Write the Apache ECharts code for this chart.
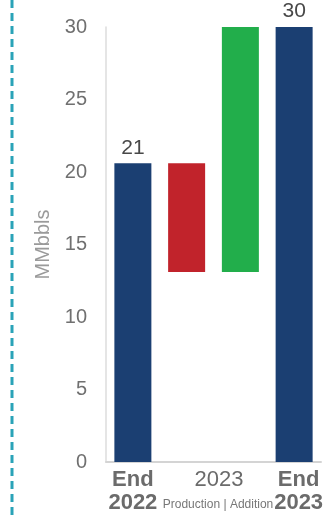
<!DOCTYPE html>
<html>
<head>
<meta charset="utf-8">
<script src="https://cdn.jsdelivr.net/npm/echarts@6/dist/echarts.min.js"></script>
<style>
  html, body { margin: 0; padding: 0; background: #ffffff; }
  #chart { width: 331px; height: 515px; }
</style>
</head>
<body>
<div id="chart"></div>
<script>
// Reserve bridge, MMbbls
const categories = ['End 2022', 'Production', 'Addition', 'End 2023'];
const openingReserves = 20.6;
const production = -7.5;
const additions = 16.9;
const closingReserves = 30.0;
const yTicks = [0, 5, 10, 15, 20, 25, 30];

const barColors = ['#1b3f72', '#c1232b', '#22ae4b', '#1b3f72'];

// Waterfall: transparent base + visible segment
const afterProduction = openingReserves + production;
const baseValues = [0, afterProduction, afterProduction, 0];
const segmentValues = [openingReserves, -production, additions, closingReserves];

const chart = echarts.init(document.getElementById('chart'), null, { renderer: 'canvas' });

const grid = { left: 106, right: 10, top: 27, bottom: 53 };
const font = 'Liberation Sans, Arial, sans-serif';

chart.setOption({
  animation: false,
  backgroundColor: '#ffffff',
  textStyle: { fontFamily: font },
  grid: grid,
  xAxis: {
    type: 'category',
    data: categories,
    axisLine: { show: true, lineStyle: { color: '#d4d4d4', width: 2 } },
    axisTick: { show: false },
    axisLabel: {
      interval: 0,
      margin: 6,
      formatter: function (v, i) {
        if (v.indexOf('End') === 0) {
          const parts = v.split(' ');
          const style = i === 0 ? 'b' : 'c';
          return '{' + style + '|' + parts[0] + '}\n{' + style + '|' + parts[1] + '}';
        }
        return '';
      },
      rich: {
        b: { fontSize: 22, fontWeight: 'bold', color: '#6b6b6b', lineHeight: 23, fontFamily: font },
        c: { fontSize: 22, fontWeight: 'bold', color: '#6b6b6b', lineHeight: 23, fontFamily: font, padding: [0, 0, 0, 9] }
      }
    }
  },
  yAxis: {
    type: 'value',
    min: yTicks[0],
    max: yTicks[yTicks.length - 1],
    interval: 5,
    name: 'MMbbls',
    nameLocation: 'middle',
    nameGap: 50,
    nameTextStyle: { fontSize: 20, color: '#9a9a9a', fontFamily: font },
    axisLine: { show: true, lineStyle: { color: '#dcdcdc', width: 1.5 } },
    axisTick: { show: false },
    splitLine: { show: false },
    axisLabel: { fontSize: 20, color: '#707070', margin: 19 }
  },
  series: [
    {
      type: 'bar',
      stack: 'bridge',
      data: baseValues,
      barWidth: 37,
      itemStyle: { color: 'transparent' },
      silent: true
    },
    {
      type: 'bar',
      stack: 'bridge',
      barWidth: 37,
      data: segmentValues.map(function (v, i) {
        return { value: v, itemStyle: { color: barColors[i] } };
      }),
      label: {
        show: true,
        position: 'top',
        distance: 5,
        fontSize: 21,
        color: '#484848',
        formatter: function (p) {
          return (p.dataIndex === 0 || p.dataIndex === 3) ? Math.round(p.value).toString() : '';
        }
      }
    }
  ],
  graphic: [
    {
      type: 'line',
      shape: { x1: 12, y1: 0, x2: 12, y2: 515 },
      style: { stroke: '#2aa3b8', lineWidth: 3, lineDash: [8, 5] }
    },
    {
      type: 'text',
      x: 219, y: 480,
      style: { text: '2023', fontSize: 22, fill: '#6b6b6b', align: 'center', verticalAlign: 'middle', fontFamily: font }
    },
    {
      type: 'text',
      x: 218, y: 505,
      style: { text: 'Production | Addition', fontSize: 12, fill: '#777777', align: 'center', verticalAlign: 'middle', fontFamily: font }
    }
  ]
});
</script>
</body>
</html>
